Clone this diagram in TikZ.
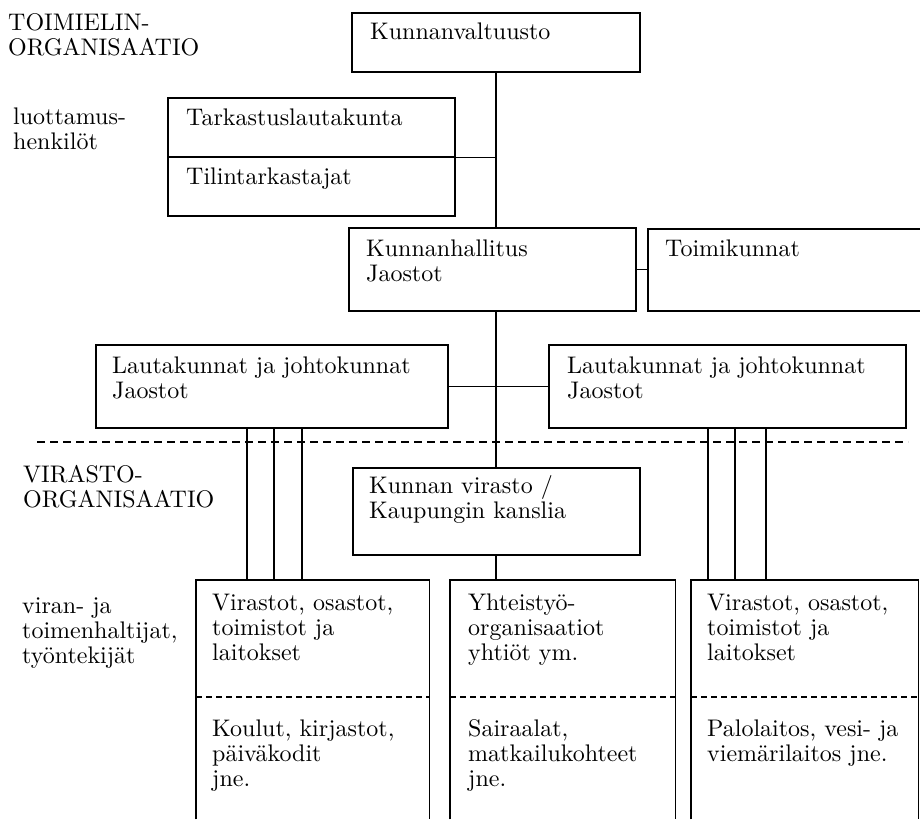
\documentclass[tikz,border=0pt]{standalone}
\usepackage{fontspec}
\setmainfont{lmroman10-regular.otf}
\begin{document}
\begin{tikzpicture}[x=1pt,y=-1pt,
  box/.style={draw, line width=1.6pt, inner sep=0pt, anchor=north west},
  frame/.style={inner sep=0pt, anchor=north west},
  txt/.style={anchor=base west, inner sep=0pt, align=left, text width=300pt,
    font=\fontsize{24}{25}\selectfont},
  link/.style={line width=1.6pt},
  sect/.style={line width=1.3pt, dash pattern=on 8pt off 5pt},
  part/.style={line width=1.3pt, dash pattern=on 6pt off 4pt}]
\useasboundingbox (0,0) rectangle (920,819);

% organ boxes
\node[box, minimum width=288pt, minimum height=59pt] (kv) at (351,12) {};
\node[box, minimum width=287pt, minimum height=59pt] (tl1) at (167,97) {};
\node[box, minimum width=287pt, minimum height=59pt] (tl2) at (167,156) {};
\node[box, minimum width=287pt, minimum height=83pt] (kh) at (348,227) {};
\node[box, minimum width=300pt, minimum height=82pt] (tk) at (647,228) {};
\node[box, minimum width=352pt, minimum height=83pt] (lj1) at (95,344) {};
\node[box, minimum width=357pt, minimum height=83pt] (lj2) at (548,344) {};
\node[box, minimum width=287pt, minimum height=87pt] (kvir) at (352,467) {};

% office boxes, open at the bottom
\node[frame, minimum width=233pt, minimum height=239pt] (b1) at (196,580) {};
\node[frame, minimum width=225pt, minimum height=239pt] (b2) at (450,580) {};
\node[frame, minimum width=227pt, minimum height=239pt] (b3) at (691,580) {};
\foreach \b in {b1,b2,b3} {
  \draw[link] (\b.south west) -- (\b.north west) -- (\b.north east) -- (\b.south east);
  \draw[part] (\b.west |- 0,697) -- (\b.east |- 0,697);
}

% boundary between the two organisations
\coordinate (s1) at (37,442);
\coordinate (s2) at (908,442);
\draw[sect] (s1) -- (s2);

% connectors
\draw[link] (kv.south) -- (kv.south |- kh.north);
\draw[link] (tl1.south east) -- (tl1.south east -| kv.south);
\draw[link] (kh.east) -- (kh.east -| tk.west);
\draw[link] (kh.south -| kv.south) -- (kv.south |- kvir.north);
\draw[link] (lj1.east) -- (lj1.east -| lj2.west);
\draw[link] (kvir.south -| kv.south) -- (kv.south |- b2.north);
\foreach \x in {247,274,302}
  \draw[link] (\x,0 |- lj1.south) -- (\x,0 |- b1.north);
\foreach \x in {708,735,766}
  \draw[link] (\x,0 |- lj2.south) -- (\x,0 |- b3.north);

% side labels
\node[txt] (l1) at (8,30) {TOIMIELIN-\\ORGANISAATIO};
\node[txt] (l2) at (13,124) {luottamus-\\henkilöt};
\node[txt] (l3) at (23,482) {VIRASTO-\\ORGANISAATIO};
\node[txt] (l4) at (22,613) {viran- ja\\toimenhaltijat,\\työntekijät};

% box texts
\node[txt] (t1) at (370,39) {Kunnanvaltuusto};
\node[txt] (t2) at (186,125) {Tarkastuslautakunta};
\node[txt] (t3) at (186,184) {Tilintarkastajat};
\node[txt] (t4) at (366,256) {Kunnanhallitus\\Jaostot};
\node[txt] (t5) at (665,256) {Toimikunnat};
\node[txt] (t6) at (112,373) {Lautakunnat ja johtokunnat\\Jaostot};
\node[txt] (t7) at (567,373) {Lautakunnat ja johtokunnat\\Jaostot};
\node[txt] (t8) at (369,493) {Kunnan virasto /\\Kaupungin kanslia};
\node[txt] (t9) at (212,610) {Virastot, osastot,\\toimistot ja\\laitokset};
\node[txt] (t10) at (468,610) {Yhteistyö-\\organisaatiot\\yhtiöt ym.};
\node[txt] (t11) at (707,610) {Virastot, osastot,\\toimistot ja\\laitokset};
\node[txt] (t12) at (212,736) {Koulut, kirjastot,\\päiväkodit\\jne.};
\node[txt] (t13) at (468,736) {Sairaalat,\\matkailukohteet\\jne.};
\node[txt] (t14) at (707,736) {Palolaitos, vesi- ja\\viemärilaitos jne.};
\end{tikzpicture}
\end{document}
